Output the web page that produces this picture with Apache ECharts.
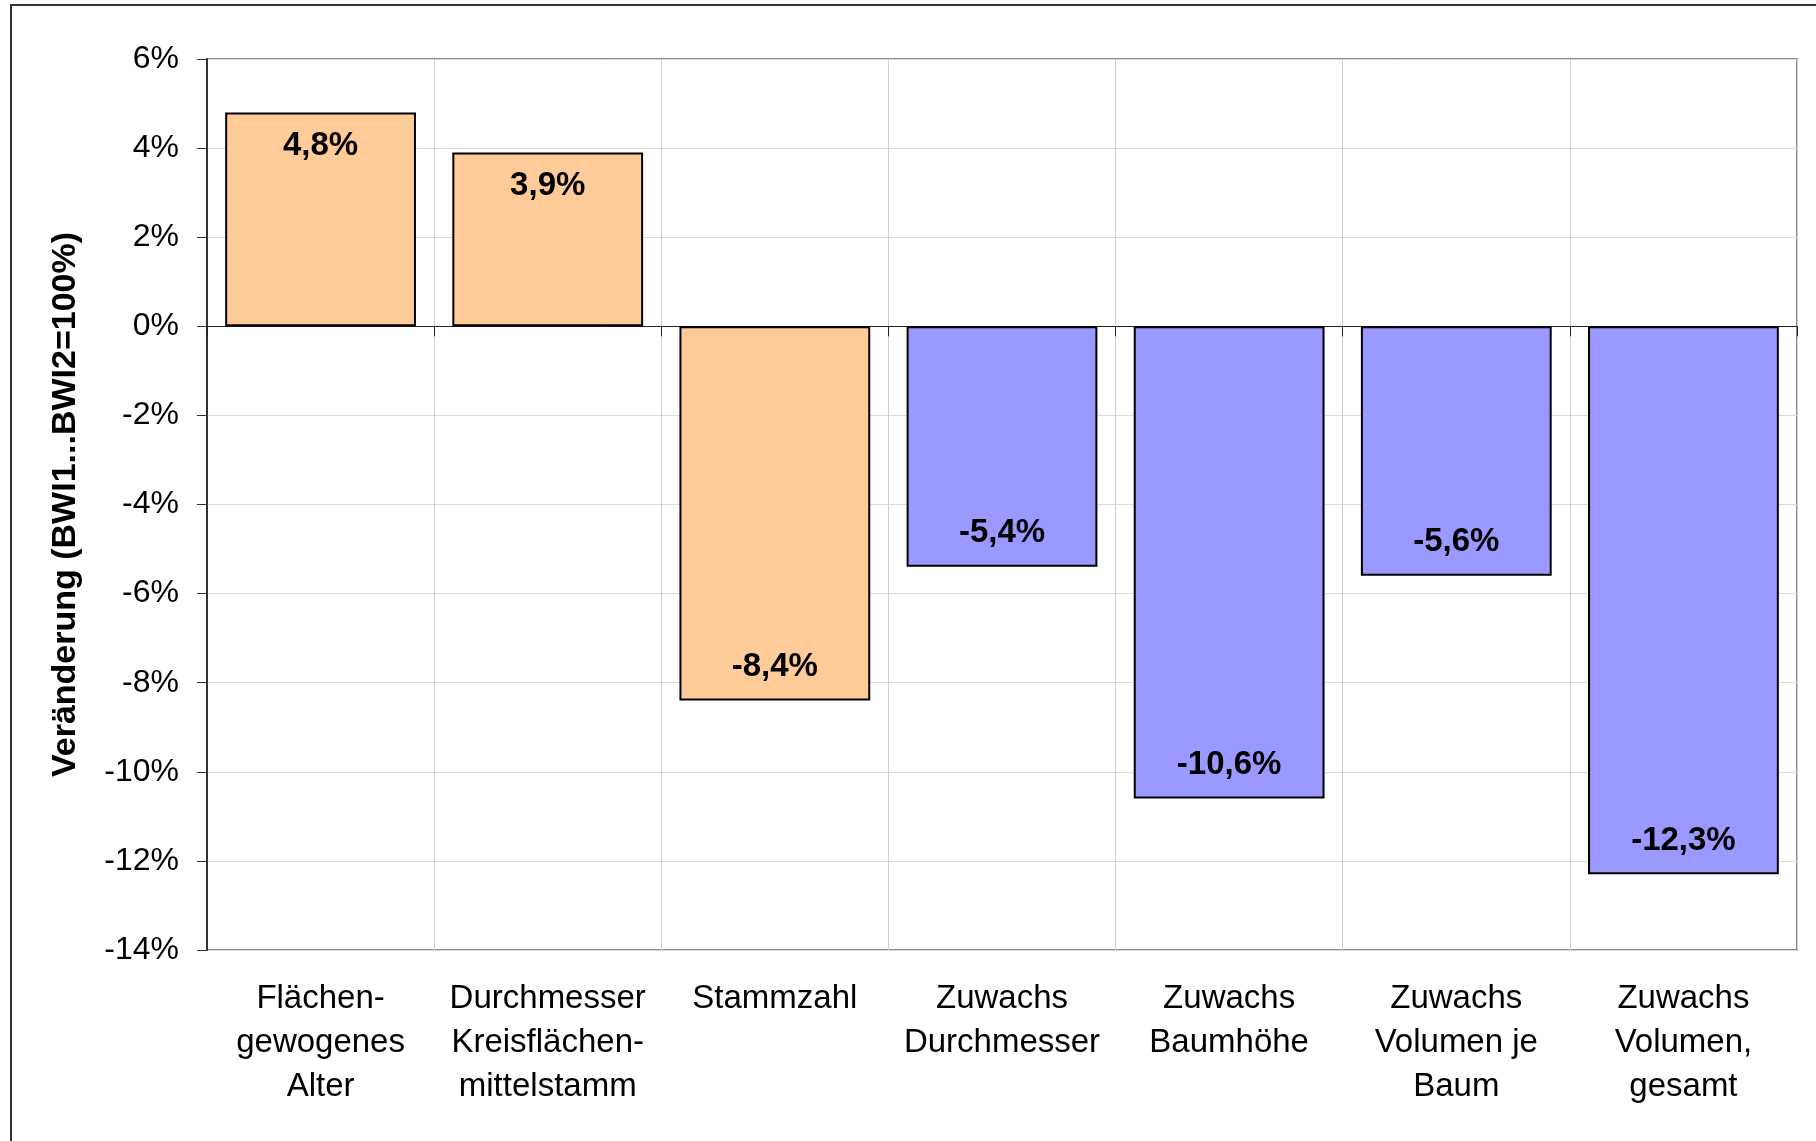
<!DOCTYPE html>
<html>
<head>
<meta charset="utf-8">
<script src="https://cdn.jsdelivr.net/npm/echarts@6/dist/echarts.min.js"></script>
<style>
html,body{margin:0;padding:0;background:#fff;}
#chart{width:1816px;height:1141px;}
</style>
</head>
<body>
<div id="chart"></div>
<script>
const categories = [
  'Flächen-\ngewogenes\nAlter',
  'Durchmesser\nKreisflächen-\nmittelstamm',
  'Stammzahl',
  'Zuwachs\nDurchmesser',
  'Zuwachs\nBaumhöhe',
  'Zuwachs\nVolumen je\nBaum',
  'Zuwachs\nVolumen,\ngesamt'
];
const values = [4.8, 3.9, -8.4, -5.4, -10.6, -5.6, -12.3];
const groups = ['Bestand', 'Bestand', 'Bestand', 'Zuwachs', 'Zuwachs', 'Zuwachs', 'Zuwachs'];
const yTicks = { min: -14, max: 6, interval: 2 };
const yAxisTitle = 'Veränderung (BWI1...BWI2=100%)';

const groupColors = { Bestand: '#FFCC99', Zuwachs: '#9999FF' };
const font = "'Liberation Sans', Arial, sans-serif";

const chart = echarts.init(document.getElementById('chart'), null, { renderer: 'canvas' });

const data = values.map((v, i) => ({
  value: v,
  itemStyle: { color: groupColors[groups[i]] },
  label: { position: v >= 0 ? 'insideTop' : 'insideBottom' }
}));

chart.setOption({
  backgroundColor: '#ffffff',
  animation: false,
  graphic: [{
    type: 'rect',
    shape: { x: 11, y: 5, width: 1900, height: 1300 },
    style: { fill: 'none', stroke: '#333', lineWidth: 2 },
    silent: true, z: 100
  }],
  grid: {
    left: 207, top: 59, right: 19, bottom: 191,
    show: true, borderColor: '#8c8c8c', borderWidth: 2,
    backgroundColor: 'transparent'
  },
  xAxis: [{
    type: 'category',
    data: categories,
    position: 'bottom',
    axisLine: { show: false, onZero: false },
    axisTick: { show: false },
    splitLine: { show: true, lineStyle: { color: '#cfcfcf', width: 1 } },
    axisLabel: {
      interval: 0, margin: 27, color: '#000',
      fontFamily: font, fontSize: 33, lineHeight: 44
    }
  }, {
    type: 'category',
    data: categories,
    position: 'bottom',
    axisLine: { show: true, onZero: true, lineStyle: { color: '#222', width: 1 } },
    axisTick: { show: true, inside: false, length: 10, lineStyle: { color: '#222', width: 1 } },
    axisLabel: { show: false },
    splitLine: { show: false }
  }],
  yAxis: {
    type: 'value',
    min: yTicks.min, max: yTicks.max, interval: yTicks.interval,
    name: yAxisTitle,
    nameLocation: 'middle',
    nameGap: 124,
    nameTextStyle: { fontFamily: font, fontWeight: 'bold', fontSize: 34, color: '#000' },
    axisLine: { show: true, lineStyle: { color: '#333', width: 2 } },
    axisTick: { show: true, inside: false, length: 10, lineStyle: { color: '#333', width: 1 } },
    splitLine: { show: true, lineStyle: { color: '#dcdcdc', width: 1 } },
    axisLabel: {
      formatter: '{value}%', margin: 28, color: '#000',
      fontFamily: font, fontSize: 32
    }
  },
  series: [{
    type: 'bar',
    xAxisIndex: 0,
    data: data,
    barCategoryGap: '16%',
    itemStyle: { borderColor: '#000', borderWidth: 2 },
    label: {
      show: true,
      distance: 17,
      color: '#000',
      fontFamily: font,
      fontWeight: 'bold',
      fontSize: 33,
      formatter: p => p.value.toFixed(1).replace('.', ',') + '%'
    }
  }]
});
</script>
</body>
</html>
